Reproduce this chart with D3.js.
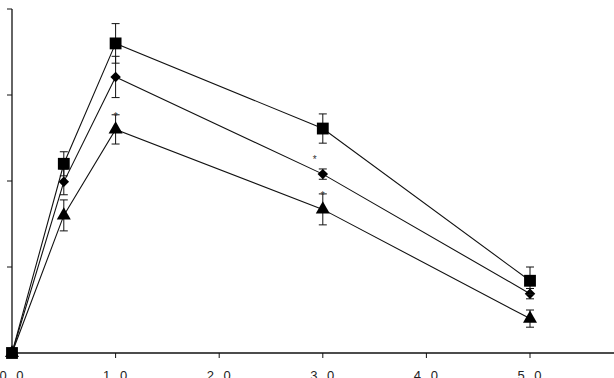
<!DOCTYPE html>
<html>
<head>
<meta charset="utf-8">
<script src="https://cdn.jsdelivr.net/npm/d3@7"></script>
<style>
  html, body { margin: 0; padding: 0; background: #fff; }
  svg { display: block; }
</style>
</head>
<body>
<div id="chart"></div>
<script>
// time points and values per series (y in tick units)
const times = [0, 0.5, 1, 3, 5];
const squareVals = [0, 2.20, 3.60, 2.61, 0.84];
const squareErr = [0, 0.14, 0.23, 0.17, 0.16];
const diamondVals = [0, 1.99, 3.21, 2.08, 0.69];
const diamondErr = [0, 0.15, 0.24, 0.06, 0.06];
const triangleVals = [0, 1.60, 2.60, 1.67, 0.40];
const triangleErr = [0, 0.18, 0.17, 0.18, 0.10];
const xTicks = [0, 1, 2, 3, 4, 5];
const xTickLabels = ["0.0", "1.0", "2.0", "3.0", "4.0", "5.0"];
const yTicks = [0, 1, 2, 3, 4];
// significance marks: [series, time]
const starMarks = [["triangle", 1], ["diamond", 3], ["triangle", 3]];

const width = 614, height = 378;
const svg = d3.select("#chart").append("svg")
    .attr("width", width)
    .attr("height", height);

const x = d3.scaleLinear().domain([0, 5]).range([12, 530]);
const y = d3.scaleLinear().domain([0, 4]).range([353, 9]);

// x axis (line runs to the right edge)
svg.append("line")
    .attr("x1", 12).attr("x2", width)
    .attr("y1", y(0)).attr("y2", y(0))
    .attr("stroke", "#111").attr("stroke-width", 1.3);
svg.selectAll(".xtick").data(xTicks).enter().append("line")
    .attr("x1", d => x(d)).attr("x2", d => x(d))
    .attr("y1", y(0)).attr("y2", y(0) + 5)
    .attr("stroke", "#111").attr("stroke-width", 1);
svg.selectAll(".xlab").data(xTicks).enter().append("text")
    .attr("x", d => x(d) + 1)
    .attr("y", y(0) + 27)
    .attr("text-anchor", "middle")
    .attr("font-family", "Liberation Sans, Arial, sans-serif")
    .attr("font-size", 13)
    .attr("letter-spacing", 3)
    .attr("fill", "#222")
    .text((d, i) => xTickLabels[i]);

// y axis
svg.append("line")
    .attr("x1", 12).attr("x2", 12)
    .attr("y1", y(4)).attr("y2", y(0))
    .attr("stroke", "#111").attr("stroke-width", 1.3);
svg.selectAll(".ytick").data(yTicks).enter().append("line")
    .attr("x1", 7).attr("x2", 12)
    .attr("y1", d => y(d)).attr("y2", d => y(d))
    .attr("stroke", "#111").attr("stroke-width", 1);

const series = [
    { name: "triangle", vals: triangleVals, err: triangleErr, sym: d3.symbolTriangle, size: 85, rot: 0 },
    { name: "diamond", vals: diamondVals, err: diamondErr, sym: d3.symbolSquare, size: 55, rot: 45 },
    { name: "square", vals: squareVals, err: squareErr, sym: d3.symbolSquare, size: 140, rot: 0 }
];

const line = d3.line().x(d => x(d.t)).y(d => y(d.v));

series.forEach(s => {
    const pts = times.map((t, i) => ({ t: t, v: s.vals[i], e: s.err[i] }));
    const g = svg.append("g");
    g.append("path")
        .attr("d", line(pts))
        .attr("fill", "none")
        .attr("stroke", "#111")
        .attr("stroke-width", 1.1);
    // error bars
    const eb = g.selectAll(".eb").data(pts.filter(p => p.e > 0)).enter().append("g");
    eb.append("line")
        .attr("x1", p => x(p.t)).attr("x2", p => x(p.t))
        .attr("y1", p => y(p.v + p.e)).attr("y2", p => y(p.v - p.e))
        .attr("stroke", "#111").attr("stroke-width", 1);
    [1, -1].forEach(sign => {
        eb.append("line")
            .attr("x1", p => x(p.t) - 4).attr("x2", p => x(p.t) + 4)
            .attr("y1", p => y(p.v + sign * p.e)).attr("y2", p => y(p.v + sign * p.e))
            .attr("stroke", "#111").attr("stroke-width", 1);
    });
    g.selectAll(".m").data(pts).enter().append("path")
        .attr("transform", p => `translate(${x(p.t)},${y(p.v)}) rotate(${s.rot})`)
        .attr("d", d3.symbol().type(s.sym).size(s.size))
        .attr("fill", "#000");
});

// asterisks
const valsByName = { triangle: triangleVals, diamond: diamondVals, square: squareVals };
const errByName = { triangle: triangleErr, diamond: diamondErr, square: squareErr };
svg.selectAll(".star").data(starMarks).enter().append("text")
    .attr("x", d => x(d[1]) - (d[0] === "diamond" ? 8 : 0))
    .attr("y", d => {
        const i = times.indexOf(d[1]);
        const v = valsByName[d[0]][i];
        return d[0] === "diamond" ? y(v) - 11 : y(v + errByName[d[0]][i]) + 5;
    })
    .attr("text-anchor", "middle")
    .attr("font-family", "Liberation Sans, Arial, sans-serif")
    .attr("font-size", 10)
    .attr("fill", "#333")
    .text("*");
</script>
</body>
</html>
